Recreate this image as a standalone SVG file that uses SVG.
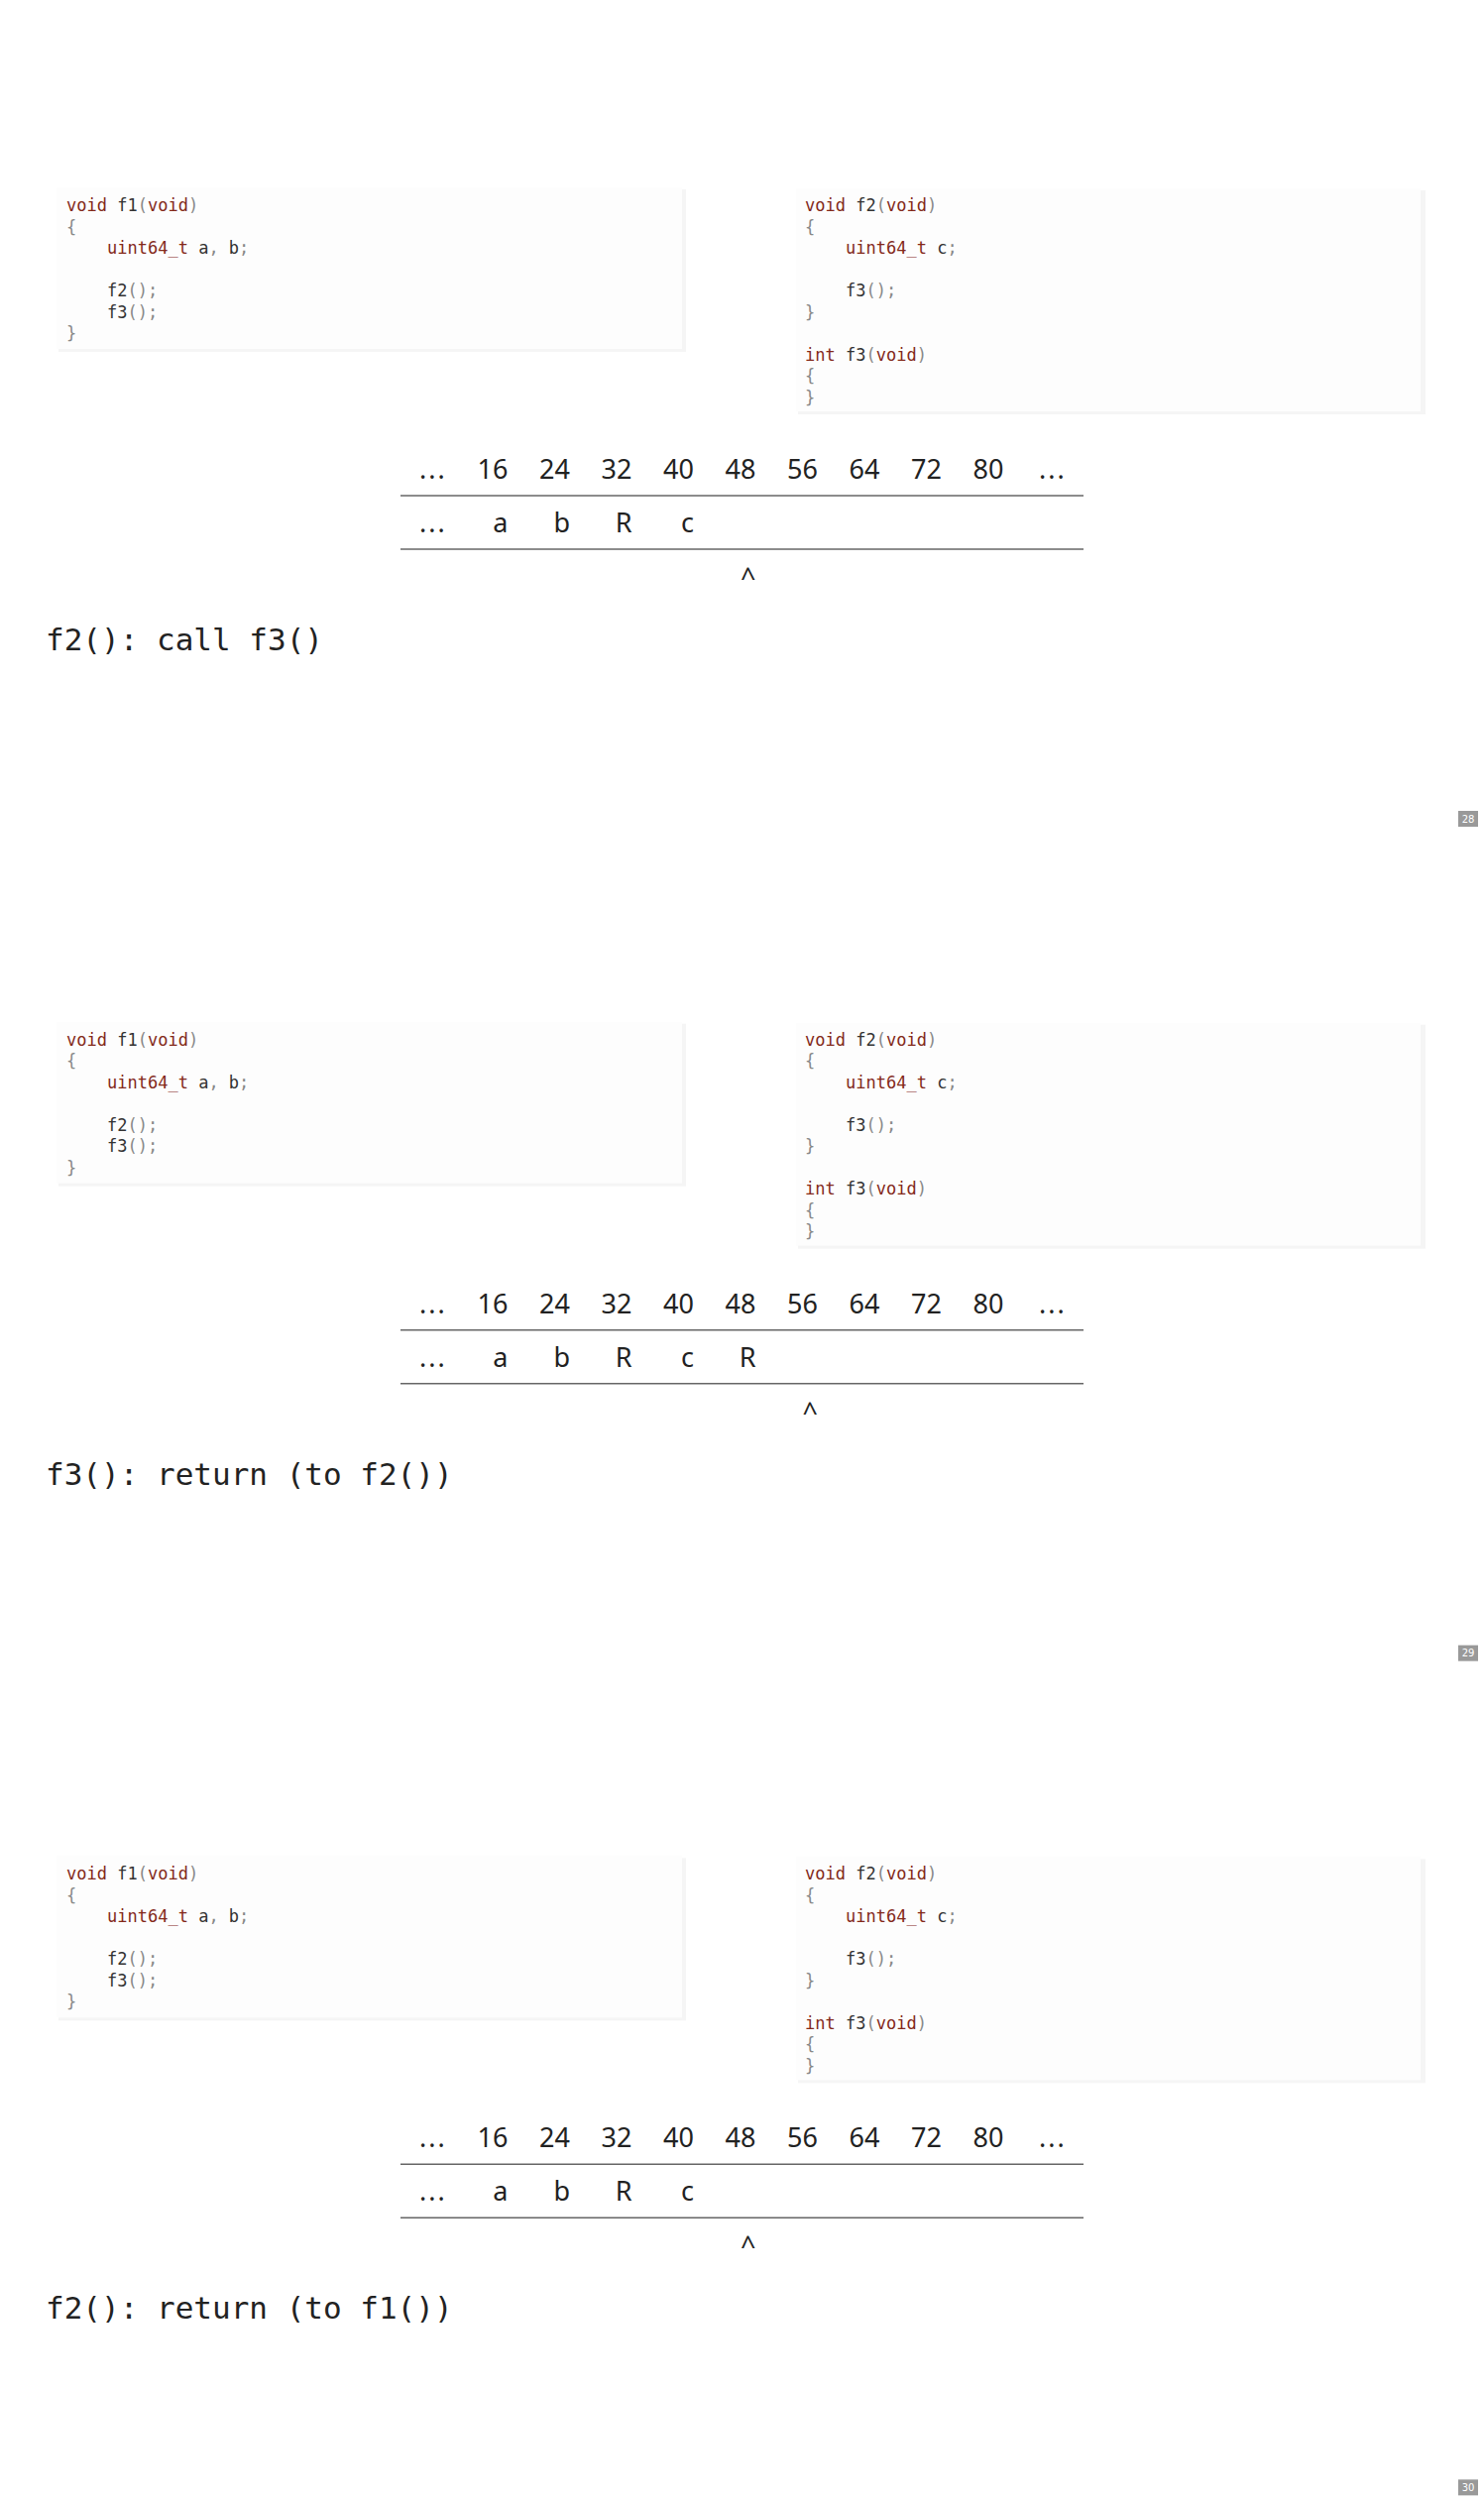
<svg xmlns="http://www.w3.org/2000/svg" width="1497" height="2525" viewBox="0 0 1497 2525">
<style>
.code{font-family:"DejaVu Sans Mono","Liberation Mono",monospace;font-size:17px;fill:#333}
.k{fill:#83291a}
.p{fill:#888}
.box{fill:#fdfdfd}
.shadow{fill:#f5f5f5}
.tbl{font-family:"Noto Sans","Open Sans",sans-serif;font-size:27px;fill:#222;text-anchor:end}
.dots{font-family:"Noto Sans","Open Sans",sans-serif;font-size:27px;fill:#222;text-anchor:start;letter-spacing:2px}
.rule{stroke:#666;stroke-width:1.5}
.cap{font-family:"DejaVu Sans Mono","Liberation Mono",monospace;font-size:31px;fill:#222}
.pg{fill:#999}
.pgt{font-family:"DejaVu Sans","Liberation Sans",sans-serif;font-size:10px;fill:#fff;text-anchor:middle}
</style>
<defs>
<g id="codeF1">
<rect class="shadow" x="59" y="191" width="633" height="164"/>
<rect class="box" x="57" y="189" width="631" height="163"/>
<text class="code" x="67" y="213"><tspan class="k">void</tspan> f1<tspan class="p">(</tspan><tspan class="k">void</tspan><tspan class="p">)</tspan></text>
<text class="code p" x="67" y="234.5">{</text>
<text class="code" x="108" y="256"><tspan class="k">uint64_t</tspan> a<tspan class="p">,</tspan> b<tspan class="p">;</tspan></text>
<text class="code" x="108" y="299">f2<tspan class="p">();</tspan></text>
<text class="code" x="108" y="320.5">f3<tspan class="p">();</tspan></text>
<text class="code p" x="67" y="342">}</text>
</g>
<g id="codeF2">
<rect class="shadow" x="805" y="192" width="633" height="226"/>
<rect class="box" x="803" y="190" width="630" height="225"/>
<text class="code" x="812" y="213"><tspan class="k">void</tspan> f2<tspan class="p">(</tspan><tspan class="k">void</tspan><tspan class="p">)</tspan></text>
<text class="code p" x="812" y="234.5">{</text>
<text class="code" x="853" y="256"><tspan class="k">uint64_t</tspan> c<tspan class="p">;</tspan></text>
<text class="code" x="853" y="299">f3<tspan class="p">();</tspan></text>
<text class="code p" x="812" y="320.5">}</text>
<text class="code" x="812" y="363.5"><tspan class="k">int</tspan> f3<tspan class="p">(</tspan><tspan class="k">void</tspan><tspan class="p">)</tspan></text>
<text class="code p" x="812" y="385">{</text>
<text class="code p" x="812" y="406.5">}</text>
</g>
<g id="header">
<text class="dots" x="423" y="483">...</text>
<text class="tbl" x="512.5" y="483">16</text>
<text class="tbl" x="575" y="483">24</text>
<text class="tbl" x="637.5" y="483">32</text>
<text class="tbl" x="700" y="483">40</text>
<text class="tbl" x="762.5" y="483">48</text>
<text class="tbl" x="825" y="483">56</text>
<text class="tbl" x="887.5" y="483">64</text>
<text class="tbl" x="950" y="483">72</text>
<text class="tbl" x="1012.5" y="483">80</text>
<text class="dots" x="1048" y="483">...</text>
<line class="rule" x1="404" y1="500" x2="1093" y2="500"/>
<line class="rule" x1="404" y1="554" x2="1093" y2="554"/>
<text class="dots" x="423" y="537">...</text>
<text class="tbl" x="512.5" y="537">a</text>
<text class="tbl" x="575" y="537">b</text>
<text class="tbl" x="637.5" y="537">R</text>
<text class="tbl" x="700" y="537">c</text>
</g>
</defs>

<g id="slide28">
<g id="s28-code-f1"><use href="#codeF1"/></g>
<g id="s28-code-f2"><use href="#codeF2"/></g>
<g id="s28-stack"><use href="#header"/>
<text class="tbl" x="762.5" y="592">^</text></g>
<g id="s28-caption"><text class="cap" x="46" y="656">f2(): call f3()</text></g>
<g id="s28-page"><rect class="pg" x="1471" y="818" width="20" height="16"/><text class="pgt" x="1481" y="829.5">28</text></g>
</g>

<g id="slide29" transform="translate(0,841.67)">
<g id="s29-code-f1"><use href="#codeF1"/></g>
<g id="s29-code-f2"><use href="#codeF2"/></g>
<g id="s29-stack"><use href="#header"/>
<text class="tbl" x="762.5" y="537">R</text>
<text class="tbl" x="825" y="592">^</text></g>
<g id="s29-caption"><text class="cap" x="46" y="656">f3(): return (to f2())</text></g>
<g id="s29-page"><rect class="pg" x="1471" y="818" width="20" height="16"/><text class="pgt" x="1481" y="829.5">29</text></g>
</g>

<g id="slide30" transform="translate(0,1683.33)">
<g id="s30-code-f1"><use href="#codeF1"/></g>
<g id="s30-code-f2"><use href="#codeF2"/></g>
<g id="s30-stack"><use href="#header"/>
<text class="tbl" x="762.5" y="592">^</text></g>
<g id="s30-caption"><text class="cap" x="46" y="656">f2(): return (to f1())</text></g>
<g id="s30-page"><rect class="pg" x="1471" y="818" width="20" height="16"/><text class="pgt" x="1481" y="829.5">30</text></g>
</g>
</svg>
